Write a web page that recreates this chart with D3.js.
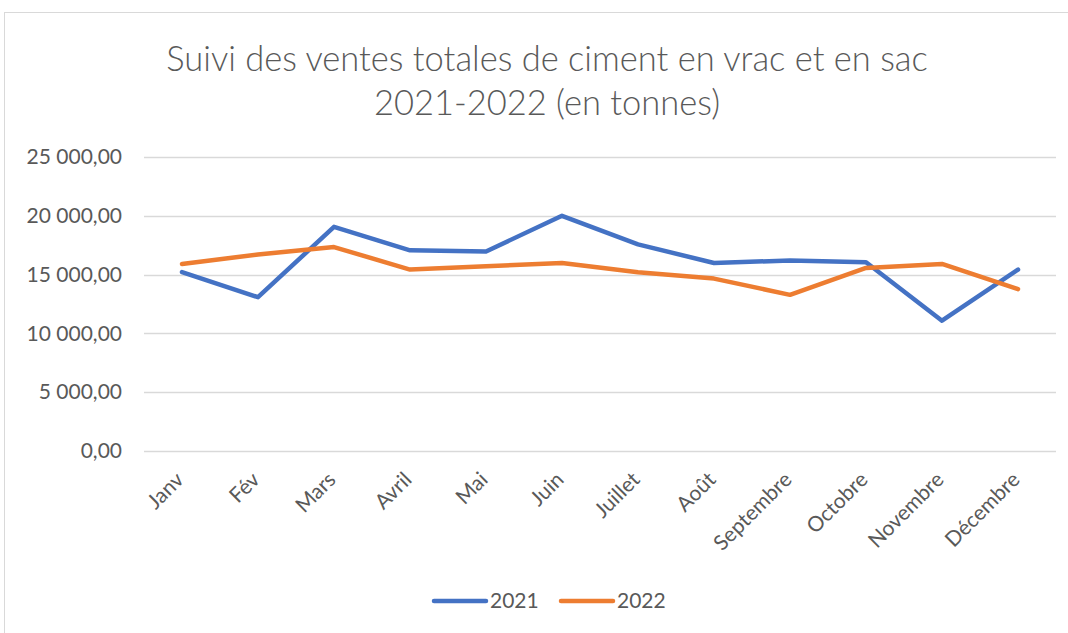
<!DOCTYPE html>
<html>
<head>
<meta charset="utf-8">
<script src="https://cdn.jsdelivr.net/npm/d3@7"></script>
<style>
  body { margin: 0; background: #fff; }
  svg { display: block; }
</style>
</head>
<body>
<script>
// data
var months = ["Janv", "Fév", "Mars", "Avril", "Mai", "Juin", "Juillet", "Août", "Septembre", "Octobre", "Novembre", "Décembre"];
var sales2021 = [15220, 13080, 19060, 17060, 16970, 20000, 17570, 15990, 16200, 16050, 11080, 15430];
var sales2022 = [15910, 16710, 17340, 15430, 15710, 15990, 15200, 14660, 13280, 15570, 15910, 13770];
var yTicks = [0, 5000, 10000, 15000, 20000, 25000];
var seriesNames = ["2021", "2022"];

var width = 1068, height = 633;
var font = "Lato, 'Open Sans', sans-serif";
var colors = ["#4472C4", "#ED7D31"];

var svg = d3.select("body").append("svg")
  .attr("width", width)
  .attr("height", height);

// chart frame
svg.append("rect")
  .attr("x", 4.5).attr("y", 12.5)
  .attr("width", 1100).attr("height", 700)
  .attr("fill", "#fff")
  .attr("stroke", "#d9d9d9");

var x = d3.scaleBand().domain(months).range([144, 1056]);
var y = d3.scaleLinear().domain([0, 25000]).range([451, 157]);

// title
svg.append("text")
  .attr("x", 547).attr("y", 71)
  .attr("text-anchor", "middle")
  .style("font-family", font).style("font-size", "34.5px").style("font-weight", 300).attr("fill", "#595959")
  .text("Suivi des ventes totales de ciment en vrac et en sac");
svg.append("text")
  .attr("x", 547).attr("y", 115)
  .attr("text-anchor", "middle")
  .style("font-family", font).style("font-size", "34.5px").style("font-weight", 300).attr("fill", "#595959")
  .text("2021-2022 (en tonnes)");

// gridlines
svg.append("g").selectAll("line").data(yTicks).enter().append("line")
  .attr("x1", 144).attr("x2", 1056)
  .attr("y1", function(d) { return Math.round(y(d)) + 0.5; })
  .attr("y2", function(d) { return Math.round(y(d)) + 0.5; })
  .attr("stroke", "#d9d9d9").attr("stroke-width", 1.5);

// y axis
var fmt = function(d) {
  var s = d3.format(",.2f")(d);
  return s.replace(/,/g, " ").replace(".", ",");
};
var yAxis = d3.axisLeft(y).tickValues(yTicks).tickFormat(fmt).tickSize(0).tickPadding(0);
var gy = svg.append("g").attr("transform", "translate(122,0)").call(yAxis);
gy.select(".domain").remove();
gy.selectAll("text")
  .style("font-family", font).style("font-size", "21px").attr("fill", "#595959");

// x axis
var xAxis = d3.axisBottom(x).tickSize(0).tickPadding(0);
var gx = svg.append("g").attr("transform", "translate(0,451)").call(xAxis);
gx.select(".domain").remove();
gx.selectAll("text")
  .style("font-family", font).style("font-size", "21px").attr("fill", "#595959")
  .attr("text-anchor", "end")
  .attr("dy", null)
  .attr("transform", "translate(3,30) rotate(-45)");

// lines
var line = d3.line()
  .x(function(d, i) { return x(months[i]) + x.bandwidth() / 2; })
  .y(function(d) { return y(d); });

[sales2021, sales2022].forEach(function(s, i) {
  svg.append("path")
    .datum(s)
    .attr("d", line)
    .attr("fill", "none")
    .attr("stroke", colors[i])
    .attr("stroke-width", 4.5)
    .attr("stroke-linejoin", "round")
    .attr("stroke-linecap", "round");
});

// legend
var legX = [434, 561];
seriesNames.forEach(function(n, i) {
  svg.append("line")
    .attr("x1", legX[i]).attr("x2", legX[i] + 52)
    .attr("y1", 601).attr("y2", 601)
    .attr("stroke", colors[i]).attr("stroke-width", 4.5)
    .attr("stroke-linecap", "round");
  svg.append("text")
    .attr("x", legX[i] + 56).attr("y", 608)
    .style("font-family", font).style("font-size", "21px").attr("fill", "#595959")
    .text(n);
});
</script>
</body>
</html>
